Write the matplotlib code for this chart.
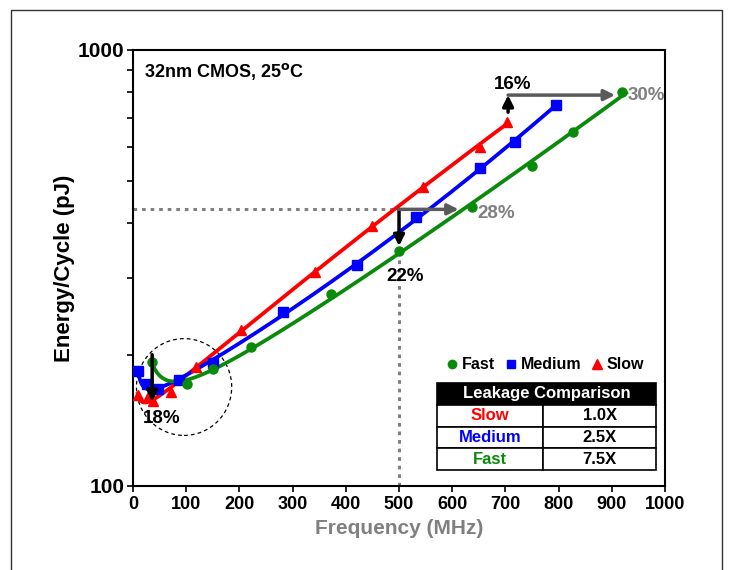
import numpy as np
import matplotlib
matplotlib.use("Agg")
import matplotlib.pyplot as plt
from matplotlib.lines import Line2D
from matplotlib.patches import Ellipse, Rectangle
from matplotlib.ticker import FixedLocator, NullFormatter

plt.rcParams['font.family'] = ['Liberation Sans', 'DejaVu Sans']
plt.rcParams['font.weight'] = 'bold'

# data (MHz, pJ)
fast_f = [36, 101, 150, 222, 372, 500, 637, 750, 827, 919]
fast_e = [192, 171, 185, 208, 275, 346, 436, 542, 649, 801]
medium_f = [9, 26, 47, 86, 150, 282, 421, 532, 652, 718, 795]
medium_e = [184, 171, 167, 175, 191, 250, 321, 414, 536, 615, 748]
slow_f = [9, 28, 38, 71, 118, 203, 342, 449, 545, 652, 703]
slow_e = [162, 160, 157, 164, 187, 228, 310, 394, 485, 600, 684]

leak_names = ['Slow', 'Medium', 'Fast']
leak_values = ['1.0X', '2.5X', '7.5X']

GREEN = '#0a8a0a'
BLUE = '#0000ff'
RED = '#ff0000'
GRAY = '#808080'
DGRAY = '#5a5a5a'


def fit_curve(f, e, f_end):
    # least squares trend line in log space
    f = np.asarray(f, float)
    A = np.column_stack([np.ones_like(f), 1 / f, f, f ** 2])
    coef, *_ = np.linalg.lstsq(A, np.log(e), rcond=None)
    xs = np.linspace(f[0], f_end, 300)
    B = np.column_stack([np.ones_like(xs), 1 / xs, xs, xs ** 2])
    return xs, np.exp(B @ coef)


fig = plt.figure(figsize=(7.3, 5.7), dpi=100)
ax = fig.add_axes([0.1822, 0.1474, 0.7288, 0.7649])

series = [(slow_f, slow_e, RED, '^', 7.5, slow_f[-1]),
          (medium_f, medium_e, BLUE, 's', 6.5, medium_f[-1] + 5),
          (fast_f, fast_e, GREEN, 'o', 6.5, fast_f[-1] + 8)]
for f, e, c, m, ms, fend in series:
    xs, ys = fit_curve(f, e, fend)
    ax.plot(xs, ys, color=c, lw=2.7, zorder=3)
    ax.plot(f, e, ls='none', marker=m, color=c, ms=ms, zorder=4)

ax.set_yscale('log')
ax.set_xlim(0, 1000)
ax.set_ylim(100, 1000)
ax.set_xticks(range(0, 1001, 100))
ax.yaxis.set_major_locator(FixedLocator([100, 1000]))
ax.set_yticklabels(['100', '1000'])
ax.yaxis.set_minor_locator(FixedLocator(range(200, 1000, 100)))
ax.yaxis.set_minor_formatter(NullFormatter())
ax.tick_params(axis='x', which='major', labelsize=13, length=4, width=1.2)
ax.tick_params(axis='y', which='major', labelsize=15, length=4, width=1.2, pad=2)
ax.tick_params(axis='y', which='minor', length=4, width=1.2)
for lab in ax.get_xticklabels() + ax.get_yticklabels():
    lab.set_fontweight('bold')
for sp in ax.spines.values():
    sp.set_linewidth(1.5)

ax.set_xlabel('Frequency (MHz)', fontsize=15, fontweight='bold', color=GRAY, labelpad=4)
ax.set_ylabel('Energy/Cycle (pJ)', fontsize=16, fontweight='bold', labelpad=2)

ax.text(0.02, 0.95, r'32nm CMOS, 25$^{\mathbf{o}}$C', transform=ax.transAxes,
        fontsize=13, fontweight='bold', va='center', ha='left')

# iso-energy / iso-frequency guides
ax.plot([0, 500], [431, 431], ls=(0, (1.2, 1.6)), color=GRAY, lw=2.2, zorder=2)
ax.plot([500, 500], [100, 346], ls=(0, (1.2, 1.6)), color=GRAY, lw=2.2, zorder=2)


def arrow(x0, y0, x1, y1, color):
    ax.annotate('', xy=(x1, y1), xytext=(x0, y0),
                arrowprops=dict(arrowstyle='-|>', color=color, lw=2.5,
                                mutation_scale=16, shrinkA=0, shrinkB=0),
                zorder=5)


arrow(500, 431, 500, 355, 'black')
arrow(500, 431, 612, 431, DGRAY)
ax.text(648, 421, '28%', fontsize=13.5, fontweight='bold', color=GRAY, va='center')
ax.text(511, 303, '22%', fontsize=13.5, fontweight='bold', va='center', ha='center')

arrow(705, 720, 705, 788, 'black')
arrow(705, 788, 906, 788, DGRAY)
ax.text(930, 788, '30%', fontsize=13.5, fontweight='bold', color=GRAY, va='center')
ax.text(714, 832, '16%', fontsize=13.5, fontweight='bold', va='center', ha='center')

arrow(36, 200, 36, 156, 'black')
ax.text(53, 143, '18%', fontsize=13.5, fontweight='bold', va='center', ha='center')

ax.add_patch(Ellipse((0.096, 0.227), 0.179, 0.222, transform=ax.transAxes,
                     fill=False, ls=(0, (3, 2.5)), lw=0.9, color='black'))

# legend
handles = [Line2D([], [], ls='none', marker='o', color=GREEN, ms=6),
           Line2D([], [], ls='none', marker='s', color=BLUE, ms=6),
           Line2D([], [], ls='none', marker='^', color=RED, ms=7)]
ax.legend(handles, ['Fast', 'Medium', 'Slow'], loc='center', bbox_to_anchor=(0.776, 0.278),
          ncol=3, frameon=False, handlelength=0.6, handletextpad=0.3, columnspacing=0.7,
          prop=dict(size=11.5, weight='bold'))

# leakage table
tx0, tx1, txm = 0.571, 0.983, 0.771
ty_top, ty_head, ty_bot = 0.236, 0.186, 0.037
ax.add_patch(Rectangle((tx0, ty_head), tx1 - tx0, ty_top - ty_head, transform=ax.transAxes,
                       facecolor='black', edgecolor='black', lw=1.2, zorder=6))
ax.text((tx0 + tx1) / 2, (ty_top + ty_head) / 2, 'Leakage Comparison', transform=ax.transAxes,
        color='white', fontsize=12, fontweight='bold', ha='center', va='center', zorder=7)
row_h = (ty_head - ty_bot) / 3
name_colors = [RED, BLUE, GREEN]
for i, (nm, val) in enumerate(zip(leak_names, leak_values)):
    y0 = ty_head - (i + 1) * row_h
    ax.add_patch(Rectangle((tx0, y0), txm - tx0, row_h, transform=ax.transAxes,
                           facecolor='white', edgecolor='black', lw=1.2, zorder=6))
    ax.add_patch(Rectangle((txm, y0), tx1 - txm, row_h, transform=ax.transAxes,
                           facecolor='white', edgecolor='black', lw=1.2, zorder=6))
    ax.text((tx0 + txm) / 2, y0 + row_h / 2, nm, transform=ax.transAxes, color=name_colors[i],
            fontsize=12, fontweight='bold', ha='center', va='center', zorder=7)
    ax.text((txm + tx1) / 2, y0 + row_h / 2, val, transform=ax.transAxes, color='black',
            fontsize=12, fontweight='bold', ha='center', va='center', zorder=7)

# outer frame
fig.add_artist(Rectangle((0.015, -0.05), 0.974, 1.0325, transform=fig.transFigure,
                         fill=False, edgecolor='#333333', lw=1.0))

fig.savefig('out.png', dpi=100)
